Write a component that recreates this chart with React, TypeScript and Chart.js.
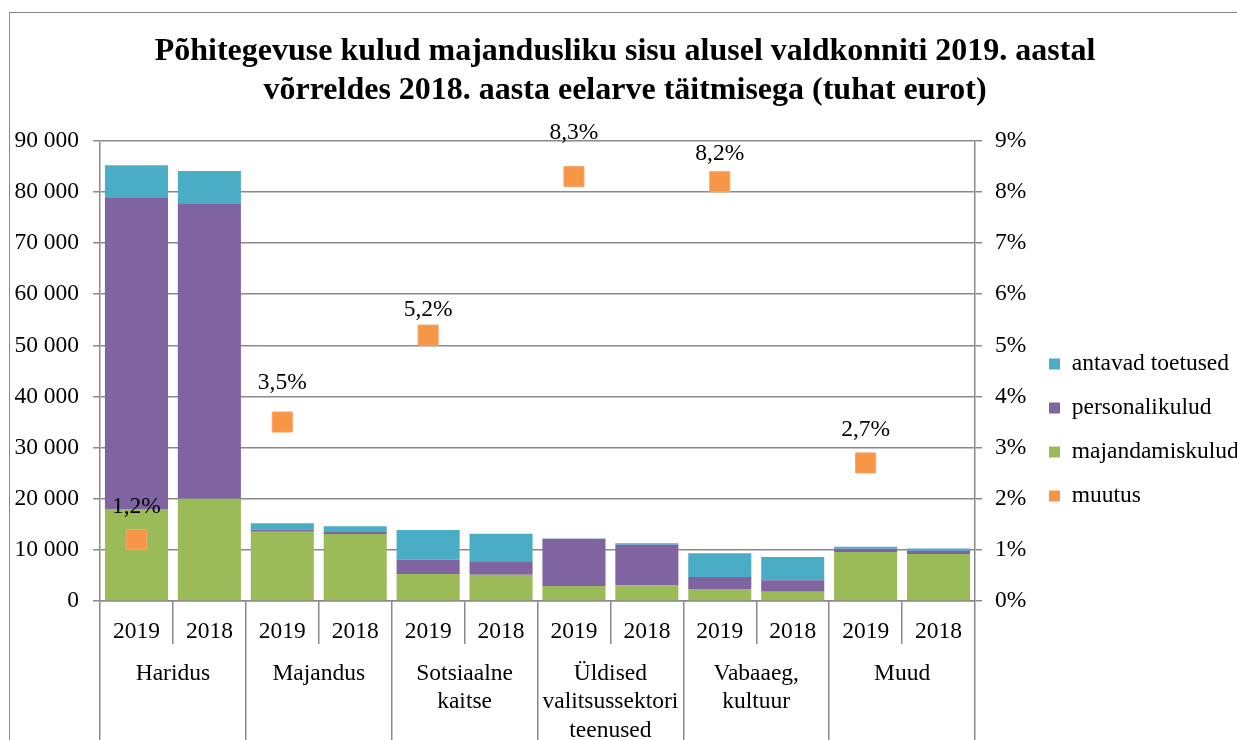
import React, { useEffect, useRef } from 'react';
import { Chart, registerables } from 'chart.js';

Chart.register(...registerables);

const FONT = "'Liberation Serif', 'Times New Roman', serif";

const years = ['2019', '2018', '2019', '2018', '2019', '2018', '2019', '2018', '2019', '2018', '2019', '2018'];
const groups = [
  ['Haridus'],
  ['Majandus'],
  ['Sotsiaalne', 'kaitse'],
  ['Üldised', 'valitsussektori', 'teenused'],
  ['Vabaaeg,', 'kultuur'],
  ['Muud'],
];
const majandamiskulud = [18000, 20000, 13550, 13100, 5300, 5150, 2950, 3050, 2350, 1800, 9600, 9200];
const personalikulud = [60800, 57800, 450, 400, 2800, 2600, 9200, 7950, 2350, 2250, 600, 650];
const antavadToetused = [6400, 6300, 1200, 1100, 5800, 5400, 50, 270, 4650, 4550, 400, 400];
const muutus = [1.2, null, 3.5, null, 5.2, null, 8.3, null, 8.2, null, 2.7, null];

// style: vertical distance (px) of each data label above its marker
const labelLift = [33, null, 39, null, 25, null, 44, null, 28, null, 33, null];

const GRID = '#8a8a8a';
const CANVAS_W = 1238;
const CANVAS_H = 824;

const pointLabels = {
  id: 'pointLabels',
  afterDatasetsDraw(chart: any) {
    const ctx = chart.ctx;
    const idx = chart.data.datasets.findIndex((d: any) => d.type === 'line');
    const meta = chart.getDatasetMeta(idx);
    const data = chart.data.datasets[idx].data;
    ctx.save();
    ctx.font = `23.5px ${FONT}`;
    ctx.fillStyle = '#000';
    ctx.textAlign = 'center';
    ctx.textBaseline = 'middle';
    meta.data.forEach((el: any, i: number) => {
      const v = data[i];
      if (v === null || v === undefined) return;
      ctx.fillText(v.toFixed(1).replace('.', ',') + '%', el.x, el.y - (labelLift[i] ?? 33));
    });
    ctx.restore();
  },
};

const legendOrder = [2, 1, 0, 3];

export default function App() {
  const ref = useRef<HTMLCanvasElement>(null);
  useEffect(() => {
    const chart = new Chart(ref.current!, {
      type: 'bar',
      data: {
        labels: years,
        datasets: [
          { type: 'bar', label: 'majandamiskulud', data: majandamiskulud, backgroundColor: '#9BBB59', yAxisID: 'y', xAxisID: 'x', stack: 's' },
          { type: 'bar', label: 'personalikulud', data: personalikulud, backgroundColor: '#8064A2', yAxisID: 'y', xAxisID: 'x', stack: 's' },
          { type: 'bar', label: 'antavad toetused', data: antavadToetused, backgroundColor: '#4BACC6', yAxisID: 'y', xAxisID: 'x', stack: 's' },
          {
            type: 'line', label: 'muutus', data: muutus as any, yAxisID: 'y2', xAxisID: 'x',
            showLine: false, pointStyle: 'rect', pointRadius: 14.2, pointHoverRadius: 14.2,
            backgroundColor: '#F79646', borderColor: '#F9A566', borderWidth: 1, order: -1,
          },
        ] as any,
      },
      options: {
        animation: false,
        responsive: false,
        events: [],
        layout: { padding: { left: 12, right: 0, top: 10, bottom: 0 } },
        datasets: { bar: { categoryPercentage: 1, barPercentage: 0.865 } } as any,
        plugins: {
          tooltip: { enabled: false },
          title: {
            display: true,
            text: ['Põhitegevuse kulud majandusliku sisu alusel valdkonniti 2019. aastal', 'võrreldes 2018. aasta eelarve täitmisega (tuhat eurot)'],
            color: '#000',
            font: { family: FONT, size: 32, weight: 'bold', lineHeight: 1.2 },
            padding: { top: 10, bottom: 31 },
          },
          legend: {
            position: 'right',
            maxWidth: 209.5,
            labels: {
              color: '#000',
              font: { family: FONT, size: 23.5 },
              boxWidth: 11,
              boxHeight: 11,
              padding: 20.5,
              sort: (a: any, b: any) => legendOrder.indexOf(a.datasetIndex) - legendOrder.indexOf(b.datasetIndex),
              generateLabels: (chart: any) => {
                const items = Chart.defaults.plugins.legend.labels.generateLabels(chart);
                items.forEach((it: any) => { it.lineWidth = 0; it.strokeStyle = 'transparent'; });
                return items;
              },
            },
          },
        },
        scales: {
          x: {
            type: 'category',
            position: 'bottom',
            weight: 0,
            offset: true,
            afterFit: (s: any) => { s.height = 43; },
            grid: { display: true, drawOnChartArea: false, offset: true, tickLength: 43, color: GRID, lineWidth: 1.5 },
            border: { display: true, color: GRID, width: 1.5 },
            ticks: { color: '#000', font: { family: FONT, size: 23.5, lineHeight: 1.2 }, padding: -26, autoSkip: false, maxRotation: 0 },
          },
          x2: {
            type: 'category',
            position: 'bottom',
            weight: 1,
            labels: groups as any,
            offset: true,
            afterFit: (s: any) => { s.height = 193; },
            grid: { display: true, drawOnChartArea: false, offset: true, tickLength: 150, color: GRID, lineWidth: 1.5 },
            border: { display: false },
            ticks: { color: '#000', font: { family: FONT, size: 23.5, lineHeight: 1.2 }, padding: -134, autoSkip: false, maxRotation: 0 },
          },
          y: {
            type: 'linear',
            position: 'left',
            stacked: true,
            min: 0,
            max: 90000,
            afterFit: (s: any) => { s.width = 88; },
            grid: { color: GRID, lineWidth: 1.5, tickLength: 7 },
            border: { display: true, color: GRID, width: 1.5 },
            ticks: {
              stepSize: 10000,
              color: '#000',
              padding: 14,
              font: { family: FONT, size: 23.5 },
              callback: (v: any) => String(v).replace(/\B(?=(\d{3})+(?!\d))/g, ' '),
            },
          },
          y2: {
            type: 'linear',
            position: 'right',
            min: 0,
            max: 9,
            afterFit: (s: any) => { s.width = 53.5; },
            grid: { drawOnChartArea: false, color: GRID, lineWidth: 1.5, tickLength: 7 },
            border: { display: true, color: GRID, width: 1.5 },
            ticks: {
              stepSize: 1,
              color: '#000',
              padding: 13,
              font: { family: FONT, size: 23.5 },
              callback: (v: any) => `${v}%`,
            },
          },
        },
      } as any,
      plugins: [pointLabels],
    });
    return () => chart.destroy();
  }, []);

  return (
    <>
      <div style={{ position: 'fixed', left: 9, top: 12, width: 1400, height: 1000, border: '1px solid #888', background: '#fff' }} />
      <canvas
        ref={ref}
        width={CANVAS_W}
        height={CANVAS_H}
        style={{ position: 'fixed', left: 0, top: 13, display: 'block', width: CANVAS_W, height: CANVAS_H }}
      />
    </>
  );
}
